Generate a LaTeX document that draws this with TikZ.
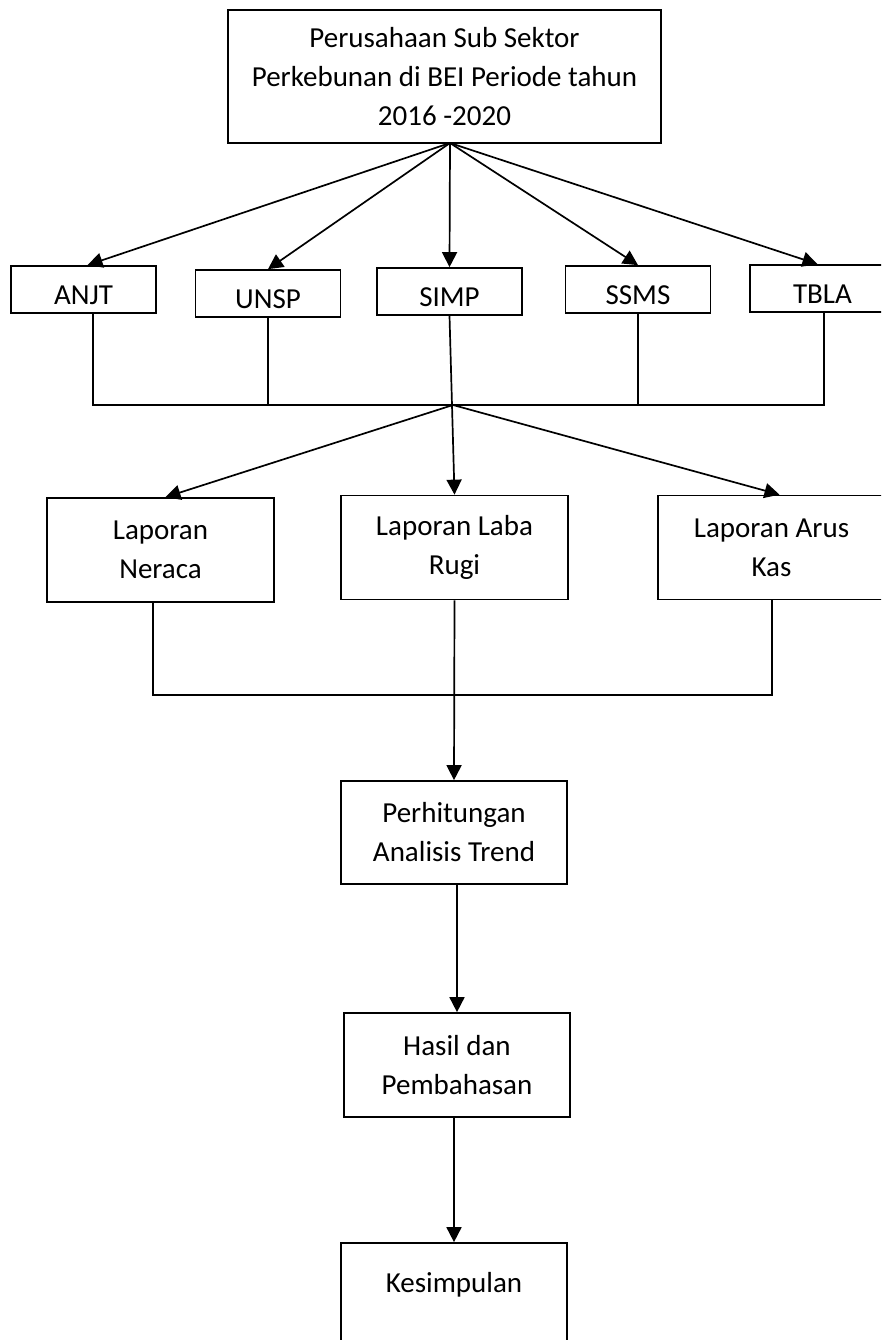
\documentclass[tikz,border=0pt]{standalone}
\usepackage{fontspec}
\setmainfont{Carlito}
\usetikzlibrary{arrows.meta}

\begin{document}
\begin{tikzpicture}[x=1pt,y=-1pt,line width=1.7pt,
    font=\fontsize{29}{39}\selectfont,
    box/.style={draw,line width=1.7pt,align=center,inner sep=0pt},
    firm/.style={box,minimum width=145pt,minimum height=47pt,text height=30pt,text depth=0pt},
    report/.style={box,minimum width=227pt,minimum height=104pt}]
      \useasboundingbox (0,0) rectangle (881,1340);
      \clip (0,0) rectangle (881,1340);
      \draw
        (444.5,76.5) node[box,minimum width=433pt,minimum height=133pt] (top)
          {Perusahaan Sub Sektor\\Perkebunan di BEI Periode tahun\\2016 -2020}
        (83.5,289.5) node[firm] (anjt){ANJT}
        (268,293.5) node[firm] (unsp){UNSP}
        (449.5,291.5) node[firm] (simp){SIMP}
        (638,289.5) node[firm] (ssms){SSMS}
        (822.5,288.5) node[firm] (tbla){TBLA}
        (160.5,550) node[report] (neraca){Laporan\\Neraca}
        (454.5,547.5) node[report] (labarugi){Laporan Laba\\Rugi}
        (771.5,547.5) node[report] (aruskas){Laporan Arus\\Kas}
        (454,832.5) node[report,minimum width=226pt,minimum height=103pt] (hitung){Perhitungan\\Analisis Trend}
        (457,1065) node[report,minimum width=226pt] (hasil){Hasil dan\\Pembahasan}
        (454,1295) node[report,minimum width=226pt,text depth=26pt] (simpulan){Kesimpulan};
      \coordinate (hub1) at (450,143);
      \coordinate (hub2) at (453,405);
      \coordinate (bus1l) at (93,405);
      \coordinate (bus1r) at (824,405);
      \coordinate (bus2l) at (153,695);
      \coordinate (bus2r) at (772,695);
      \begin{scope}[-{Triangle[length=15pt,width=15pt]}]
        \draw (hub1) to ([xshift=4pt]anjt.north);
        \draw (hub1) to (unsp.north);
        \draw (hub1) to (simp.north);
        \draw (hub1) to (ssms.north);
        \draw (hub1) to ([xshift=-5pt]tbla.north);
        \draw (simp.south) to (labarugi.north);
        \draw (hub2) to ([xshift=5pt]neraca.north);
        \draw (hub2) to ([xshift=8pt]aruskas.north);
        \draw (labarugi.south) to (hitung.north);
        \draw (hitung.south -| hasil.north) to (hasil.north);
        \draw (hasil.south -| simpulan.north) to (simpulan.north);
      \end{scope}
      \draw (anjt.south -| bus1l) -- (bus1l) -- (bus1r) -- (tbla.south -| bus1r);
      \draw (unsp.south) -- (unsp.south |- hub2);
      \draw (ssms.south) -- (ssms.south |- hub2);
      \draw (neraca.south -| bus2l) -- (bus2l) -- (bus2r) -- (aruskas.south -| bus2r);
    \end{tikzpicture}
\end{document}
